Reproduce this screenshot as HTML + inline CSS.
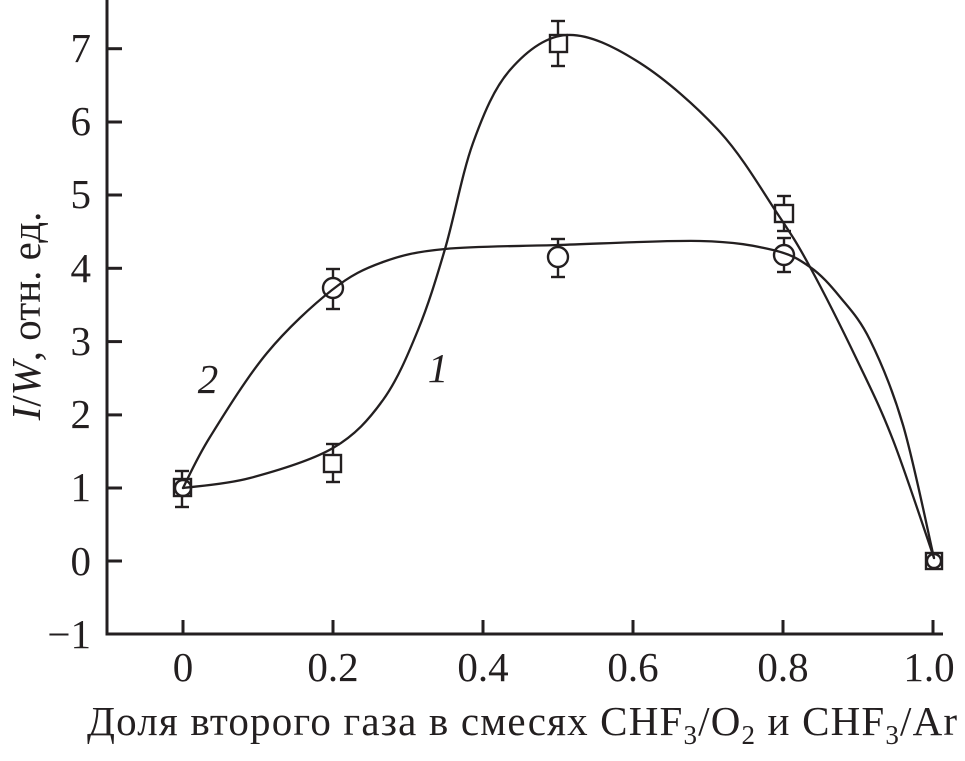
<!DOCTYPE html>
<html>
<head>
<meta charset="utf-8">
<style>
  html,body{margin:0;padding:0;background:#fff;}
  svg{display:block;}
  text{font-family:"Liberation Serif","DejaVu Serif",serif;fill:#231f20;}
</style>
</head>
<body>
<svg width="965" height="761" viewBox="0 0 965 761" xmlns="http://www.w3.org/2000/svg">
  <!-- axes -->
  <g stroke="#231f20" stroke-width="3" fill="none">
    <line x1="107" y1="0" x2="107" y2="635"/>
    <line x1="105.5" y1="634" x2="943" y2="634"/>
    <!-- y ticks -->
    <line x1="107" y1="48.7" x2="122" y2="48.7"/>
    <line x1="107" y1="122" x2="122" y2="122"/>
    <line x1="107" y1="195" x2="122" y2="195"/>
    <line x1="107" y1="268.3" x2="122" y2="268.3"/>
    <line x1="107" y1="341.6" x2="122" y2="341.6"/>
    <line x1="107" y1="414.9" x2="122" y2="414.9"/>
    <line x1="107" y1="488" x2="122" y2="488"/>
    <line x1="107" y1="561" x2="122" y2="561"/>
    <!-- x ticks -->
    <line x1="183" y1="634" x2="183" y2="620"/>
    <line x1="333" y1="634" x2="333" y2="620"/>
    <line x1="483" y1="634" x2="483" y2="620"/>
    <line x1="633" y1="634" x2="633" y2="620"/>
    <line x1="783" y1="634" x2="783" y2="620"/>
    <line x1="933" y1="634" x2="933" y2="620"/>
  </g>

  <!-- y tick labels -->
  <g font-size="41" text-anchor="end">
    <text x="91" y="62">7</text>
    <text x="91" y="135">6</text>
    <text x="91" y="208">5</text>
    <text x="91" y="282">4</text>
    <text x="91" y="355">3</text>
    <text x="91" y="428">2</text>
    <text x="91" y="501">1</text>
    <text x="91" y="575">0</text>
    <text x="91" y="648">−1</text>
  </g>

  <!-- x tick labels -->
  <g font-size="41" text-anchor="middle">
    <text x="183" y="681">0</text>
    <text x="333" y="681">0.2</text>
    <text x="483" y="681">0.4</text>
    <text x="633" y="681">0.6</text>
    <text x="783" y="681">0.8</text>
    <text x="929" y="681">1.0</text>
  </g>

  <!-- x axis title -->
  <text x="87" y="735" font-size="41" textLength="870" lengthAdjust="spacing">Доля второго газа в смесях CHF<tspan font-size="27" dy="9">3</tspan><tspan dy="-9">/O</tspan><tspan font-size="27" dy="9">2</tspan><tspan dy="-9"> и CHF</tspan><tspan font-size="27" dy="9">3</tspan><tspan dy="-9">/Ar</tspan></text>

  <!-- y axis title -->
  <text transform="translate(40,316) rotate(-90)" font-size="41" text-anchor="middle"><tspan font-style="italic">I</tspan>/<tspan font-style="italic">W</tspan>, отн. ед.</text>

  <!-- curve labels -->
  <text x="208" y="393" font-size="41" font-style="italic" text-anchor="middle">2</text>
  <text x="438" y="382" font-size="41" font-style="italic" text-anchor="middle">1</text>

  <!-- curves -->
  <g stroke="#231f20" stroke-width="2.3" fill="none" stroke-linejoin="round" stroke-linecap="round">
    <!-- curve 1 -->
    <path d="M183,488
      C194.2,486.3 225,484.7 250,478
      C275,471.3 310.8,461 333,448
      C355.2,435 368.8,419.7 383,400
      C397.2,380.3 407.7,355.2 418,330
      C428.3,304.8 435.8,280.2 445,249
      C454.2,217.8 462.2,172.8 473,143
      C483.8,113.2 494.3,88 510,70
      C525.7,52 545.3,36.2 567,35
      C588.7,33.8 614.5,46.8 640,63
      C665.5,79.2 697.2,107 720,132
      C742.8,157 762,190.5 777,213
      C792,235.5 796.5,242.2 810,267
      C823.5,291.8 844.2,333.2 858,362
      C871.8,390.8 880.3,407.3 893,440
      C905.7,472.7 927.2,538.3 934,558"/>
    <!-- curve 2 -->
    <path d="M183,488
      C187.5,479.5 196,459.5 210,437
      C224,414.5 246.7,377.5 267,353
      C287.3,328.5 312.7,305.2 332,290
      C351.3,274.8 364.2,268.8 383,262
      C401.8,255.2 415.8,251.8 445,249
      C474.2,246.2 515.5,246.3 558,245
      C600.5,243.7 664.2,240.2 700,241
      C735.8,241.8 754.7,245.7 773,250
      C791.3,254.3 798.8,259.2 810,267
      C821.2,274.8 830,284.8 840,297
      C850,309.2 859.5,318.7 870,340
      C880.5,361.3 892.3,388.7 903,425
      C913.7,461.3 928.8,535.8 934,558"/>
  </g>

  <!-- markers -->
  <g stroke="#231f20" stroke-width="2.4" fill="none">
    <!-- x=0 -->
    <circle cx="183" cy="488" r="8"/>
    <rect x="174" y="479" width="17" height="17"/>
    <line x1="182" y1="471" x2="182" y2="479"/><line x1="175" y1="471" x2="189" y2="471"/>
    <line x1="182" y1="496" x2="182" y2="507"/><line x1="175" y1="507" x2="189" y2="507"/>
    <!-- x=0.2 square -->
    <rect x="324" y="455" width="17" height="17"/>
    <line x1="333" y1="444" x2="333" y2="455"/><line x1="326" y1="444" x2="340" y2="444"/>
    <line x1="333" y1="472" x2="333" y2="482"/><line x1="326" y1="482" x2="340" y2="482"/>
    <!-- x=0.5 square -->
    <rect x="550" y="35" width="17" height="17"/>
    <line x1="558" y1="21" x2="558" y2="35"/><line x1="551" y1="21" x2="565" y2="21"/>
    <line x1="558" y1="52" x2="558" y2="66"/><line x1="551" y1="66" x2="565" y2="66"/>
    <!-- x=0.8 square -->
    <rect x="775" y="205" width="18" height="17"/>
    <line x1="784" y1="196" x2="784" y2="205"/><line x1="777" y1="196" x2="791" y2="196"/>
    <line x1="784" y1="222" x2="784" y2="231"/><line x1="777" y1="231" x2="791" y2="231"/>
    <!-- x=1.0 -->
    <circle cx="934" cy="561" r="7"/>
    <rect x="926" y="553" width="16" height="16"/>

    <!-- circles -->
    <circle cx="333" cy="288" r="10"/>
    <line x1="333" y1="269" x2="333" y2="278"/><line x1="326" y1="269" x2="340" y2="269"/>
    <line x1="333" y1="298" x2="333" y2="309"/><line x1="326" y1="309" x2="340" y2="309"/>

    <circle cx="558" cy="257" r="10"/>
    <line x1="558" y1="239" x2="558" y2="247"/><line x1="551" y1="239" x2="565" y2="239"/>
    <line x1="558" y1="267" x2="558" y2="277"/><line x1="551" y1="277" x2="565" y2="277"/>

    <circle cx="784" cy="255" r="10"/>
    <line x1="784" y1="238" x2="784" y2="245"/><line x1="777" y1="238" x2="791" y2="238"/>
    <line x1="784" y1="265" x2="784" y2="272"/><line x1="777" y1="272" x2="791" y2="272"/>
  </g>
</svg>
</body>
</html>
